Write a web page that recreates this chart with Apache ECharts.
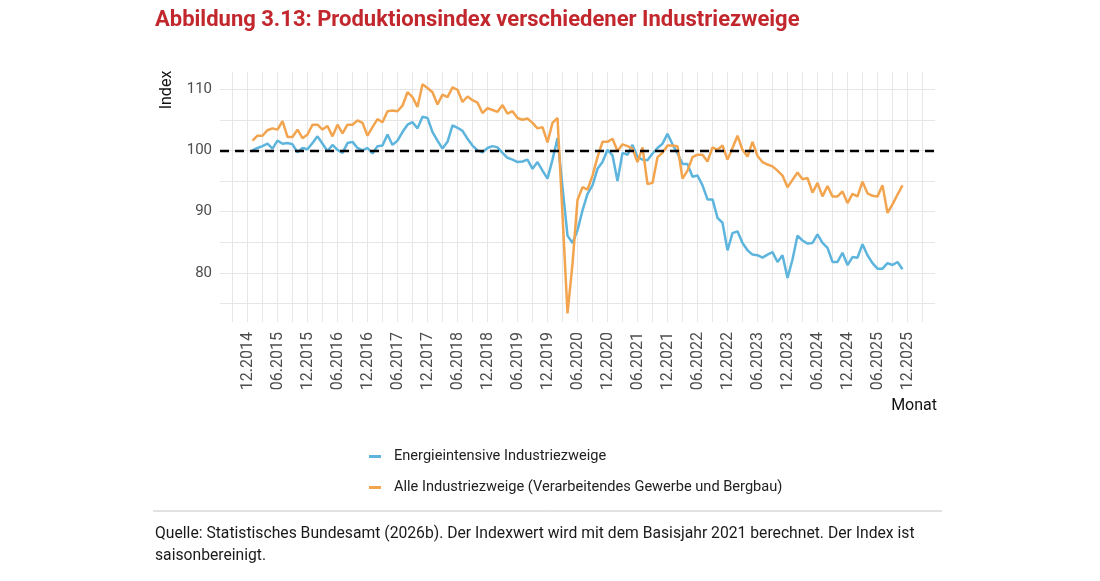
<!DOCTYPE html>
<html>
<head>
<meta charset="utf-8">
<title>Produktionsindex</title>
<script src="https://cdn.jsdelivr.net/npm/echarts@6/dist/echarts.min.js"></script>
<style>
  html, body { margin: 0; padding: 0; background: #fff; }
  #chart { width: 1100px; height: 581px; }
</style>
</head>
<body>
<div id="chart"></div>
<script>
// x = 0 entspricht 12.2014, Daten ab 01.2015 (x = 1) bis 11.2025 (x = 131)
const tickLabels = ['12.2014', '06.2015', '12.2015', '06.2016', '12.2016', '06.2017', '12.2017',
    '06.2018', '12.2018', '06.2019', '12.2019', '06.2020', '12.2020', '06.2021', '12.2021',
    '06.2022', '12.2022', '06.2023', '12.2023', '06.2024', '12.2024', '06.2025', '12.2025'];

const yTickLabels = [80, 90, 100, 110];

// Energieintensive Industriezweige
const energieintensiv = [
    100.0, 100.4, 100.7, 101.1, 100.3, 101.6, 101.1, 101.2, 101.0, 99.7, 100.4, 100.2,
    101.2, 102.3, 101.1, 99.9, 100.9, 100.1, 99.6, 101.2, 101.4, 100.4, 100.0, 100.4,
    99.5, 100.7, 100.8, 102.6, 100.9, 101.6, 103.0, 104.2, 104.6, 103.6, 105.5, 105.3,
    103.0, 101.6, 100.3, 101.4, 104.1, 103.7, 103.2, 101.9, 100.8, 100.0, 99.7, 100.4,
    100.7, 100.5, 99.6, 98.8, 98.5, 98.1, 98.2, 98.5, 97.0, 98.1, 96.7, 95.4,
    98.5, 102.0, 94.0, 86.1, 84.9, 87.0, 90.2, 92.9, 94.3, 97.0, 98.1, 100.1,
    99.2, 95.0, 99.6, 99.3, 100.9, 98.9, 98.5, 98.4, 99.5, 100.4, 101.1, 102.7,
    101.0, 99.5, 97.8, 97.8, 95.7, 95.9, 94.3, 92.0, 92.0, 89.0, 88.2, 83.7,
    86.5, 86.8, 84.9, 83.7, 83.0, 82.9, 82.5, 83.0, 83.4, 81.8, 82.9, 79.2,
    82.2, 86.1, 85.3, 84.8, 84.9, 86.3, 84.9, 84.1, 81.8, 81.8, 83.3, 81.3,
    82.6, 82.5, 84.7, 82.9, 81.6, 80.7, 80.7, 81.6, 81.3, 81.8, 80.6
];

// Alle Industriezweige (Verarbeitendes Gewerbe und Bergbau)
const alleIndustrie = [
    101.6, 102.4, 102.4, 103.3, 103.6, 103.4, 104.8, 102.2, 102.2, 103.4, 102.0, 102.6,
    104.2, 104.2, 103.4, 104.0, 102.3, 104.2, 102.8, 104.2, 104.2, 104.9, 104.5, 102.4,
    103.8, 105.1, 104.6, 106.4, 106.5, 106.4, 107.3, 109.5, 108.7, 107.1, 110.8, 110.2,
    109.5, 107.5, 109.1, 108.7, 110.3, 109.9, 107.9, 108.8, 108.2, 107.8, 106.1, 106.9,
    106.6, 106.3, 107.4, 106.0, 106.4, 105.3, 105.0, 105.2, 104.5, 103.6, 103.8, 101.3,
    104.5, 105.3, 89.5, 73.4, 81.5, 91.9, 94.0, 93.6, 95.9, 98.9, 101.4, 101.4,
    101.9, 99.9, 101.0, 100.7, 100.3, 98.1, 100.5, 94.5, 94.7, 98.9, 99.6, 100.8,
    100.8, 100.7, 95.4, 96.7, 98.9, 99.3, 99.3, 98.2, 100.5, 100.1, 100.8, 98.5,
    100.4, 102.4, 100.1, 99.0, 101.4, 99.1, 98.1, 97.7, 97.4, 96.7, 95.9, 94.0,
    95.2, 96.4, 95.3, 95.5, 93.1, 94.7, 92.5, 94.2, 92.5, 92.5, 93.3, 91.4,
    92.9, 92.5, 94.9, 93.0, 92.6, 92.5, 94.3, 89.8, 91.2, 92.8, 94.3
];

const chart = echarts.init(document.getElementById('chart'));

const xLabelValues = tickLabels.map((t, k) => k * 6);
const xGridValues = [];
for (let v = -3; v <= 135; v += 3) xGridValues.push(v);
const yGridValues = [75, 80, 85, 90, 95, 100, 105, 110];

const option = {
    backgroundColor: '#fff',
    animation: false,
    textStyle: { fontFamily: 'Roboto' },
    grid: { left: 220, right: 165, top: 72, bottom: 259 },
    xAxis: {
        type: 'value',
        min: -5.5,
        max: 137.5,
        axisLine: { show: false },
        axisTick: { show: false, customValues: xGridValues },
        axisLabel: {
            customValues: xLabelValues,
            rotate: 90,
            margin: 10,
            fontSize: 16,
            color: '#4d4d4d',
            formatter: v => tickLabels[Math.round(v / 6)]
        },
        splitLine: { show: true, lineStyle: { color: '#e6e6e6', width: 1 } }
    },
    yAxis: {
        type: 'value',
        min: 72,
        max: 112.8,
        axisLine: { show: false },
        axisTick: { show: false, customValues: yGridValues },
        axisLabel: {
            customValues: yTickLabels,
            margin: 8,
            fontSize: 15,
            color: '#4d4d4d'
        },
        splitLine: { show: true, lineStyle: { color: '#e6e6e6', width: 1 } }
    },
    legend: {
        orient: 'vertical',
        left: 364,
        top: 444,
        icon: 'rect',
        itemWidth: 12,
        itemHeight: 3,
        itemGap: 16,
        textStyle: { fontSize: 14.6, color: '#222', fontFamily: 'Roboto', padding: [0, 0, 0, 8] },
        data: ['Energieintensive Industriezweige', 'Alle Industriezweige (Verarbeitendes Gewerbe und Bergbau)']
    },
    graphic: [
        {
            type: 'text', left: 155, top: 9,
            style: { text: 'Abbildung 3.13: Produktionsindex verschiedener Industriezweige',
                fontFamily: 'Roboto', fontWeight: 'bold', fontSize: 22, fill: '#C1272D' }
        },
        {
            type: 'text', x: 167, y: 90, rotation: Math.PI / 2,
            style: { text: 'Index', fontFamily: 'Roboto', fontSize: 16, fill: '#111',
                align: 'center', verticalAlign: 'middle' }
        },
        {
            type: 'text', x: 937, y: 406,
            style: { text: 'Monat', fontFamily: 'Roboto', fontSize: 16, fill: '#111',
                align: 'right', verticalAlign: 'middle' }
        },
        {
            type: 'line',
            shape: { x1: 153, y1: 511, x2: 942, y2: 511 },
            style: { stroke: '#c4c4c4', lineWidth: 1 }
        },
        {
            type: 'text', left: 155, top: 523,
            style: { text: 'Quelle: Statistisches Bundesamt (2026b). Der Indexwert wird mit dem Basisjahr 2021 berechnet. Der Index ist\nsaisonbereinigt.',
                fontFamily: 'Roboto', fontSize: 15.7, lineHeight: 22, fill: '#1a1a1a' }
        }
    ],
    series: [
        {
            name: 'Energieintensive Industriezweige',
            type: 'line',
            data: energieintensiv.map((v, k) => [k + 1, v]),
            showSymbol: false,
            lineStyle: { color: '#5DB4DC', width: 2.5 },
            itemStyle: { color: '#5DB4DC' }
        },
        {
            name: 'Alle Industriezweige (Verarbeitendes Gewerbe und Bergbau)',
            type: 'line',
            data: alleIndustrie.map((v, k) => [k + 1, v]),
            showSymbol: false,
            lineStyle: { color: '#F2A44E', width: 2.5 },
            itemStyle: { color: '#F2A44E' },
            markLine: {
                silent: true,
                symbol: ['none', 'none'],
                label: { show: false },
                lineStyle: { color: '#000', type: [9, 6], width: 2.3 },
                data: [{ yAxis: 100 }]
            }
        }
    ]
};

chart.setOption(option);
</script>
</body>
</html>
